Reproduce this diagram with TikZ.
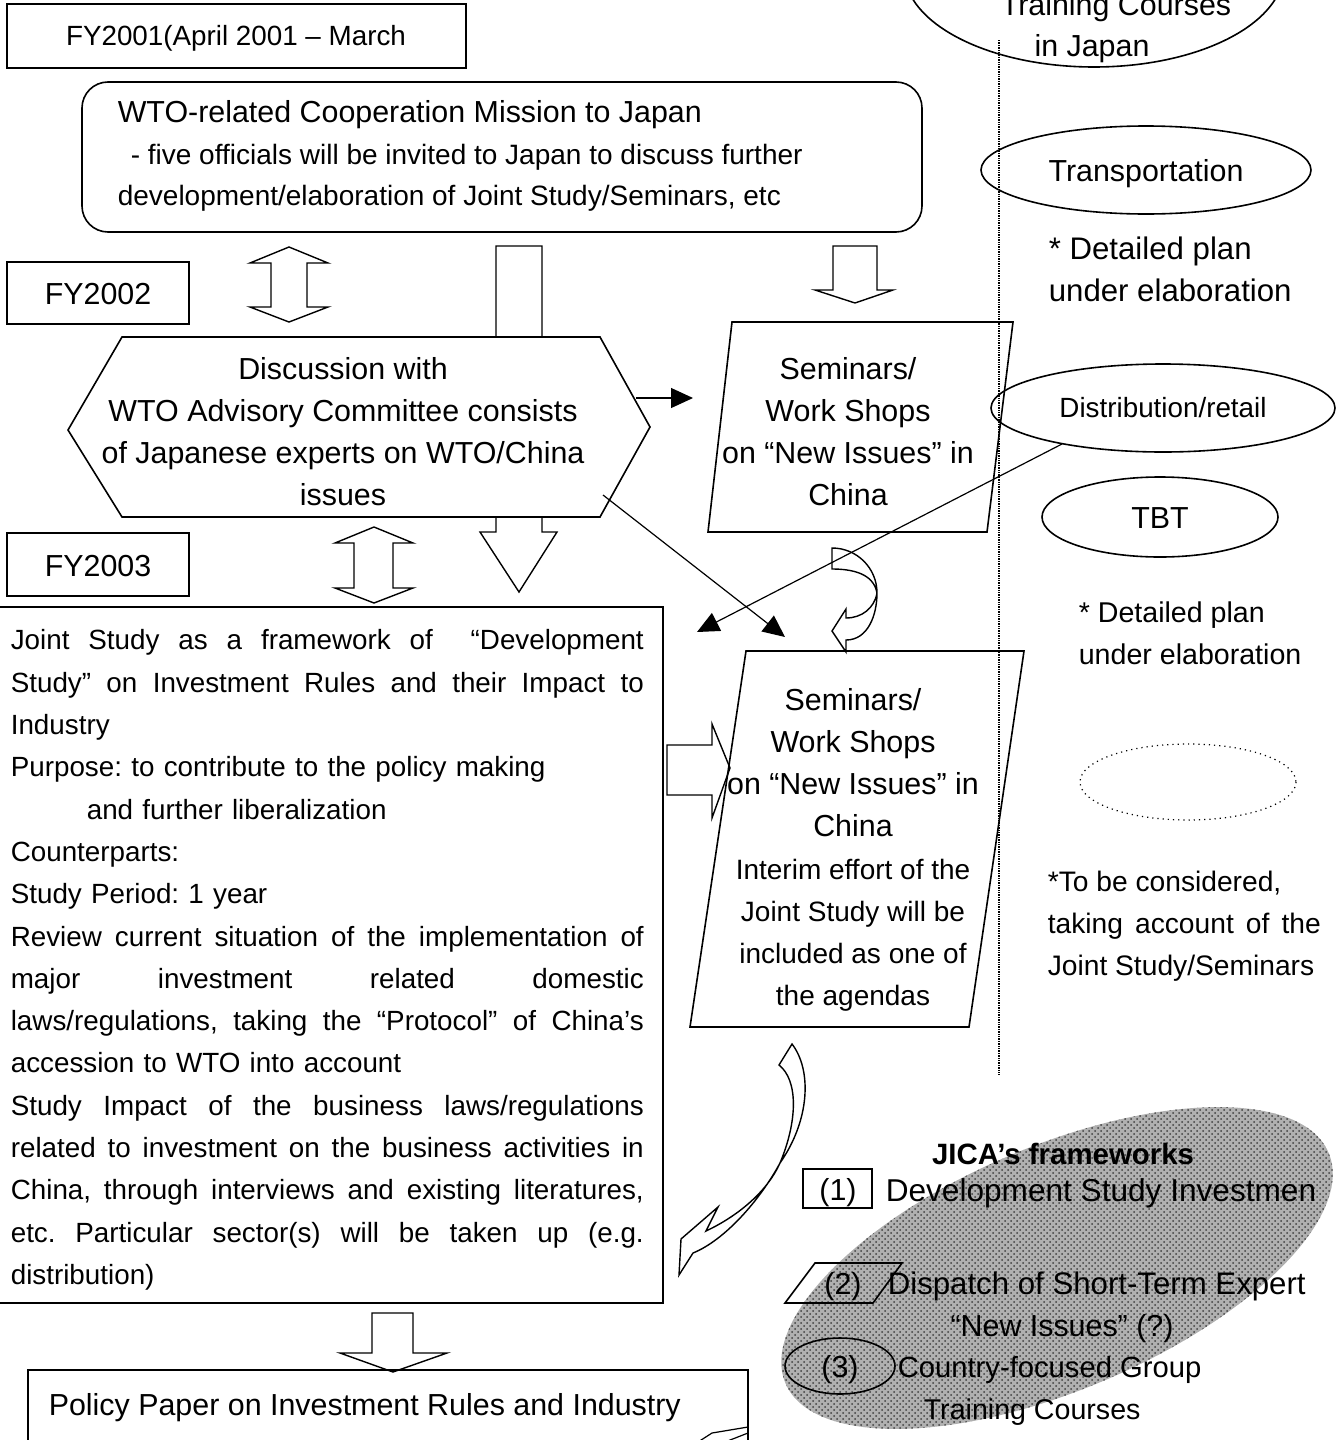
\documentclass[tikz,border=0pt]{standalone}
\usepackage{fontspec}
\setmainfont{Liberation Sans}
\usepackage{tikz}
\usetikzlibrary{arrows.meta,positioning,calc,shapes,patterns}
\newcommand{\spreadline}[2]{\makebox[#1][s]{\spaceskip=0.28em plus 1fil\relax\xspaceskip=\spaceskip #2}}
\newcommand{\jline}[1]{\spreadline{316.5pt}{#1}}

\begin{document}
\begin{tikzpicture}[x=0.5pt, y=-0.5pt, line width=0.8pt,
    big/.style={font=\fontsize{15.2}{21}\selectfont\frenchspacing, inner sep=0pt},
    body/.style={font=\fontsize{13.9}{21.15}\selectfont\frenchspacing, inner sep=0pt},
    small/.style={font=\fontsize{14}{21}\selectfont\frenchspacing, inner sep=0pt},
    blockarrow/.style={draw, fill=white, line width=0.7pt},
    link/.style={-{Triangle[length=11pt, width=10pt]}, line width=0.6pt}]
  \useasboundingbox (0,0) rectangle (1343,1440);

  % fiscal years
  \draw (7,4) rectangle (466,68);
  \node[body, anchor=base] (fy01) at (236,46) {FY2001(April 2001 – March};
  \draw (7,262) rectangle (189,324);
  \node[big, anchor=base] (fy02) at (98,304) {FY2002};
  \draw (7,533) rectangle (189,596);
  \node[big, anchor=base] (fy03) at (98,576) {FY2003};

  % right column: sectors
  \draw (1094,-30) ellipse [x radius=190, y radius=97];
  \node[big, anchor=base] (trainjp) at (1116,16) {Training Courses};
  \node[big, anchor=base] (injp) at (1092,56) {in Japan};
  \draw[line width=0.6pt, dash pattern=on 0.7pt off 0.5pt] (999,40) -- (999,1075);
  \draw (1146,170) ellipse [x radius=165, y radius=44];
  \node[big, anchor=base] (transp) at (1146,181) {Transportation};
  \node[big, font=\fontsize{15.6}{21}\selectfont, anchor=north west, align=left] (plan1) at (1048,236)
    {* Detailed plan\\under elaboration};
  \draw (1163,408) ellipse [x radius=172, y radius=44];
  \node[body, anchor=base] (distrib) at (1163,417) {Distribution/retail};
  \draw (1160,517) ellipse [x radius=118, y radius=40];
  \node[big, anchor=base] (tbt) at (1160,528) {TBT};
  \node[big, font=\fontsize{14.3}{21}\selectfont, anchor=north west, align=left] (plan2) at (1078,601)
    {* Detailed plan\\under elaboration};
  \draw[line width=0.6pt, dotted] (1188,782) ellipse [x radius=108, y radius=38];
  \node[big, font=\fontsize{14.1}{21}\selectfont, anchor=north west, align=left] (consider) at (1047,870)
    {*To be considered,\\\spreadline{136.5pt}{taking account of the}\\Joint Study/Seminars};

  % mission to Japan
  \draw[rounded corners=13pt] (82,82) rectangle (922,232);
  \node[big, anchor=base west] (mission) at (117,122) {WTO-related Cooperation Mission to Japan};
  \node[small, anchor=base west] (mission2) at (130,164) {- five officials will be invited to Japan to discuss further};
  \node[small, anchor=base west] (mission3) at (117,205) {development/elaboration of Joint Study/Seminars, etc};

  % block arrows of FY2002
  \draw[blockarrow] (289,247) -- (328,263) -- (307,263) -- (307,307) -- (328,307)
    -- (289,322) -- (250,307) -- (271,307) -- (271,263) -- (250,263) -- cycle;
  \draw[blockarrow] (496,246) -- (542,246) -- (542,532) -- (557,532) -- (519,592)
    -- (480,532) -- (496,532) -- cycle;
  \draw[blockarrow] (833,246) -- (877,246) -- (877,290) -- (893,290) -- (855,303)
    -- (815,290) -- (833,290) -- cycle;

  % discussion with the committee
  \draw[fill=white] (68,430) -- (122,337) -- (600,337) -- (650,427) -- (600,517)
    -- (122,517) -- cycle;
  \node[big, anchor=north, align=center] (disc) at (343,357)
    {Discussion with\\WTO Advisory Committee consists\\of Japanese experts on WTO/China\\issues};

  % seminars, first round
  \draw (732,322) -- (1013,322) -- (987,532) -- (708,532) -- cycle;
  \node[big, anchor=north, align=center] (sem1) at (848,357)
    {Seminars/\\Work Shops\\on “New Issues” in\\China};

  % block arrow of FY2003
  \draw[blockarrow] (374,527) -- (413,543) -- (393,543) -- (393,588) -- (413,588)
    -- (374,603) -- (335,588) -- (354,588) -- (354,543) -- (335,543) -- cycle;

  % U-turn between the seminars
  \draw[blockarrow] (832,548) to[out=0, in=90] (877,593) to[out=-90, in=0] (846,640)
    -- (846,652) -- (832,631) -- (846,609) -- (846,618) to[out=0, in=-100] (877,593)
    to[out=100, in=0] (832,569) -- cycle;

  % joint study
  \draw (-5,607) rectangle (663,1303);
  \node[body, anchor=north west, align=left, text width=316.5pt] (study) at (10,629) {%
    \jline{Joint Study as a framework of \ “Development}\\
    \jline{Study” on Investment Rules and their Impact to}\\
    Industry\\
    Purpose: to contribute to the policy making\\
    \hspace*{38pt}and further liberalization\\
    Counterparts:\\
    Study Period: 1 year\\
    \jline{Review current situation of the implementation of}\\
    \jline{major investment related domestic}\\
    \jline{laws/regulations, taking the “Protocol” of China’s}\\
    accession to WTO into account\\
    \jline{Study Impact of the business laws/regulations}\\
    \jline{related to investment on the business activities in}\\
    \jline{China, through interviews and existing literatures,}\\
    \jline{etc. Particular sector(s) will be taken up (e.g.}\\
    distribution)};
  \draw[blockarrow] (667,745) -- (712,745) -- (712,724) -- (730,768) -- (712,818)
    -- (712,795) -- (667,795) -- cycle;

  % seminars, second round
  \draw (746,651) -- (1024,651) -- (969,1027) -- (690,1027) -- cycle;
  \node[big, anchor=north, align=center] (sem2) at (853,688)
    {Seminars/\\Work Shops\\on “New Issues” in\\China};
  \node[small, anchor=north, align=center] (sem2note) at (853,858)
    {Interim effort of the\\Joint Study will be\\included as one of\\the agendas};

  % thin links
  \coordinate (discE) at (636,398);
  \coordinate (sem1W) at (693,398);
  \coordinate (discSE) at (603,495);
  \coordinate (sem2NW) at (785,637);
  \coordinate (distS) at (1062,444);
  \coordinate (studyNE) at (697,632);
  \draw[link] (discE) -- (sem1W);
  \draw[link] (discSE) -- (sem2NW);
  \draw[link] (distS) -- (studyNE);

  % curved arrow back to the study
  \draw[blockarrow] (792,1044) .. controls (812,1070) and (810,1120) .. (780,1163)
    .. controls (760,1200) and (725,1240) .. (693,1253) -- (679,1275) -- (681,1239)
    -- (718,1207) -- (706,1231) .. controls (740,1215) and (768,1190) .. (780,1163)
    .. controls (798,1120) and (798,1080) .. (779,1065) -- cycle;

  % policy paper
  \draw[blockarrow] (372,1313) -- (413,1313) -- (413,1353) -- (447,1353) -- (393,1372)
    -- (340,1353) -- (372,1353) -- cycle;
  \draw (28,1370) rectangle (748,1460);
  \node[big, anchor=base west] (policy) at (48,1415) {Policy Paper on Investment Rules and Industry};
  \draw[line width=0.6pt] (748,1427) -- (712,1433) -- (698,1442);
  \draw[line width=0.6pt] (748,1433) -- (725,1442);

  % JICA's frameworks
  \fill[gray!62, rotate around={23:(1057,1268)}] (1057,1268) ellipse [x radius=295, y radius=122];
  \fill[pattern=crosshatch dots, pattern color=black!75, rotate around={23:(1057,1268)}]
    (1057,1268) ellipse [x radius=295, y radius=122];
  \node[anchor=base, inner sep=0pt, font=\fontsize{14.7}{18}\selectfont\bfseries] (jica) at (1063,1164) {JICA's frameworks};
  \draw[fill=white] (803,1169) rectangle (872,1208);
  \node[big, anchor=base] (fw1) at (838,1200) {(1)};
  \node[big, font=\fontsize{15.8}{21}\selectfont, anchor=base west] (devstudy) at (885,1201) {Development Study Investmen};
  \draw (815,1263) -- (902,1263) -- (873,1303) -- (785,1303) -- cycle;
  \node[big, anchor=base] (fw2) at (843,1294) {(2)};
  \node[big, font=\fontsize{15.6}{21}\selectfont, anchor=base west] (expert) at (887,1294) {Dispatch of Short-Term Expert};
  \node[big, anchor=base] (newiss) at (1062,1336) {“New Issues” (?)};
  \draw (840,1366) ellipse [x radius=55, y radius=28];
  \node[big, anchor=base] (fw3) at (840,1377) {(3)};
  \node[big, font=\fontsize{14.6}{21}\selectfont, anchor=base west] (group) at (897,1377) {Country-focused Group};
  \node[big, font=\fontsize{14.3}{21}\selectfont, anchor=base west] (training) at (923,1419) {Training Courses};
\end{tikzpicture}
\end{document}
